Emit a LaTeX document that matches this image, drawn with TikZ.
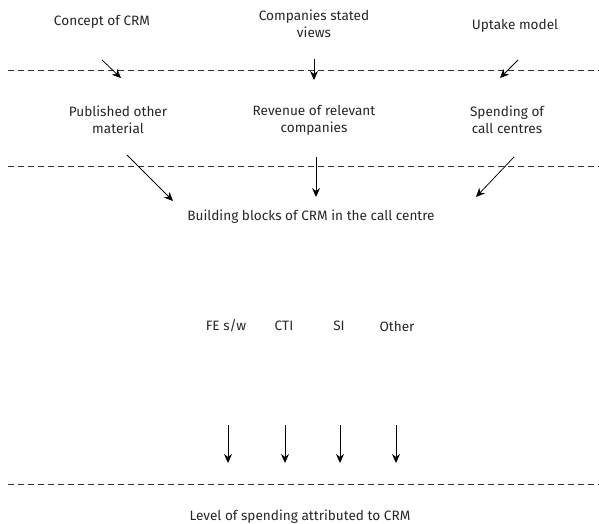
\documentclass[tikz,border=0pt]{standalone}
\usepackage{fontspec}
\setmainfont{Fira Sans}
\usetikzlibrary{arrows.meta}
\begin{document}
\begin{tikzpicture}[x=1pt,y=-1pt,
  lbl/.style={font=\fontsize{13.6}{17}\selectfont,align=center,inner sep=0pt,text=black!85},
  sep/.style={draw=black!80,line width=0.7pt,dash pattern=on 6pt off 4pt},
  arr/.style={draw,line width=0.75pt,-{Stealth[length=9pt,width=8pt,inset=3pt]}}]
\useasboundingbox (0,0) rectangle (599,523);
% texts
\node[lbl] (concept) at (102,22) {Concept of CRM};
\node[lbl] (companies) at (314,24) {Companies stated\\views};
\node[lbl] (uptake) at (515,26) {Uptake model};
\node[lbl] (published) at (118,120) {Published other\\material};
\node[lbl] (revenue) at (314,120) {Revenue of relevant\\companies};
\node[lbl] (spending) at (507,120) {Spending of\\call centres};
\node[lbl] (blocks) at (311,217) {Building blocks of CRM in the call centre};
\node[lbl] (fe) at (226,326) {FE s/w};
\node[lbl] (cti) at (284,326) {CTI};
\node[lbl] (si) at (339,326) {SI};
\node[lbl] (other) at (397,326) {Other};
\node[lbl] (level) at (300,517) {Level of spending attributed to CRM};
% separators
\coordinate (s1a) at (8,70.5); \coordinate (s1b) at (599,70.5);
\coordinate (s2a) at (8,166); \coordinate (s2b) at (599,166);
\coordinate (s3a) at (8,484); \coordinate (s3b) at (599,484);
\draw[sep] (s1a) -- (s1b);
\draw[sep] (s2a) -- (s2b);
\draw[sep] (s3a) -- (s3b);
% arrows row 1
\coordinate (a1s) at (102,60); \coordinate (a1e) at (121,78);
\coordinate (a2s) at (314,59); \coordinate (a2e) at (314,80);
\coordinate (a3s) at (518,60); \coordinate (a3e) at (500,78);
\draw[arr] (a1s) -- (a1e);
\draw[arr] (a2s) -- (a2e);
\draw[arr] (a3s) -- (a3e);
% arrows row 2
\coordinate (b1s) at (127,155); \coordinate (b1e) at (173,201);
\coordinate (b2s) at (316,157); \coordinate (b2e) at (316,197);
\coordinate (b3s) at (514,157); \coordinate (b3e) at (476,197);
\draw[arr] (b1s) -- (b1e);
\draw[arr] (b2s) -- (b2e);
\draw[arr] (b3s) -- (b3e);
% arrows row 3
\foreach \n/\x in {c1/228,c2/285,c3/340,c4/396}{
  \coordinate (\n s) at (\x,425); \coordinate (\n e) at (\x,463);
  \draw[arr] (\n s) -- (\n e);
}
\end{tikzpicture}
\end{document}
